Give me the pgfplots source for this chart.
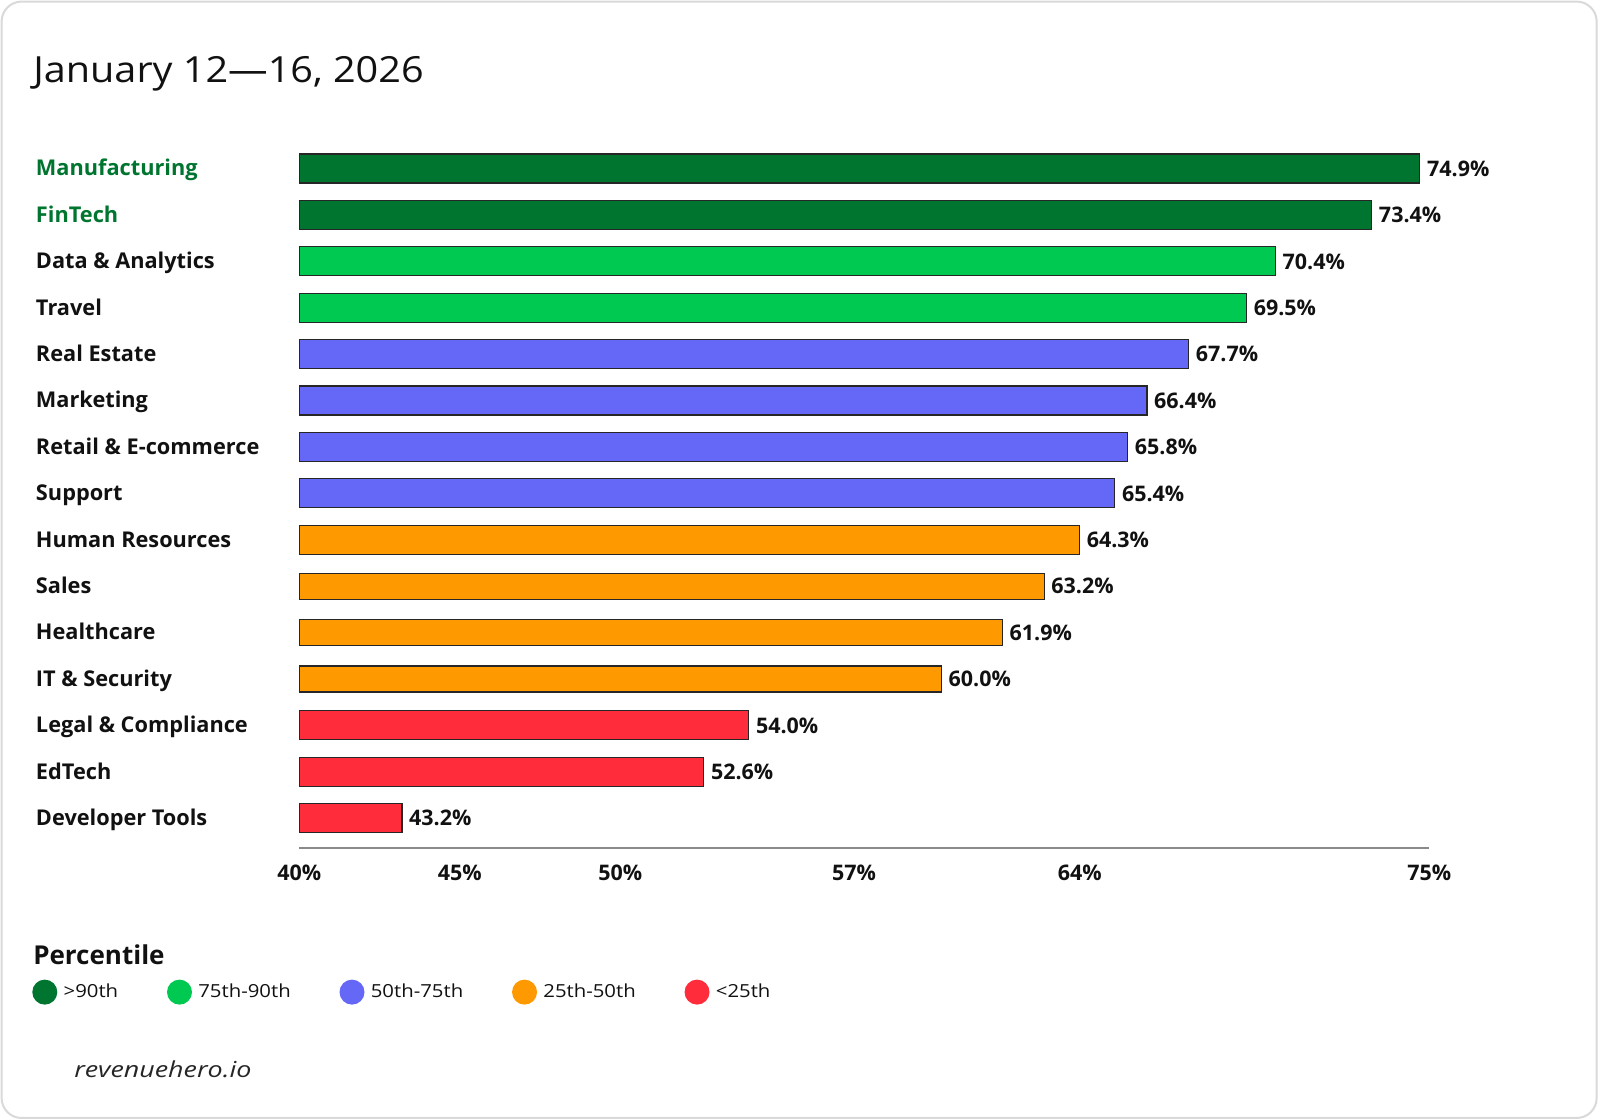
\documentclass[border=0pt]{standalone}
\usepackage{fontspec}
\setmainfont{Open Sans}
\newfontfamily\titlefont[FakeStretch=1.1]{Open Sans}
\newfontfamily\legfont[FakeStretch=1.13]{Open Sans}
\newfontfamily\sigfont[FakeStretch=1.22]{Open Sans}
\usepackage{pgfplots}
\pgfplotsset{compat=1.18}
\usepackage{pgfplotstable}

\definecolor{dkgreen}{HTML}{00752F}
\definecolor{ltgreen}{HTML}{00C951}
\definecolor{violet}{HTML}{6567F7}
\definecolor{orange}{HTML}{FF9900}
\definecolor{red}{HTML}{FF2C3C}
\definecolor{bordergray}{HTML}{D9D9D9}
\definecolor{axisgray}{HTML}{8A8A8A}
\definecolor{txt}{HTML}{111111}

\pgfplotstableread{
idx val
0 74.9
1 73.4
}\tabA
\pgfplotstableread{
idx val
2 70.4
3 69.5
}\tabB
\pgfplotstableread{
idx val
4 67.7
5 66.4
6 65.8
7 65.4
}\tabC
\pgfplotstableread{
idx val
8 64.3
}\tabD
\pgfplotstableread{
idx val
9 63.2
10 61.9
11 60.0
}\tabDthin
\pgfplotstableread{
idx val
12 54.0
13 52.6
14 43.2
}\tabE

\newcommand{\lblfont}{\bfseries\fontsize{16.1}{19}\selectfont}
\newcommand{\catfont}{\bfseries\fontsize{16.3}{19}\selectfont}

\begin{document}
\begin{tikzpicture}
\useasboundingbox (0,0) rectangle (1200pt,840pt);
\draw[draw=bordergray, line width=1.5pt, rounded corners=15pt] (1.2pt,1.5pt) rectangle (1197.5pt,838.8pt);
\node[anchor=base west, inner sep=0pt, font=\titlefont\fontsize{27}{32}\selectfont, text=txt] at (24.75pt,777.75pt) {January 12—16, 2026};

\begin{axis}[
  at={(224.4pt,204pt)}, anchor=south west,
  scale only axis, width=847.5pt, height=527pt,
  xbar, bar shift=0pt, bar width=21.75pt,
  xmin=0, xmax=35.19, ymin=-0.5, ymax=14.644, y dir=reverse,
  clip=false,
  axis x line*=bottom, axis y line*=left,
  x axis line style={draw=axisgray, line width=1.5pt, -},
  y axis line style={draw=none},
  xtick={0,5,10,17.28,24.31,35.19},
  xticklabels={40\%,45\%,50\%,57\%,64\%,75\%},
  ytick={0,...,14},
  yticklabels={\textcolor{dkgreen}{Manufacturing},\textcolor{dkgreen}{FinTech},Data \& Analytics,Travel,Real Estate,Marketing,Retail \& E-commerce,Support,Human Resources,Sales,Healthcare,IT \& Security,Legal \& Compliance,EdTech,Developer Tools},
  major tick length=0pt,
  tick style={draw=none},
  /pgf/number format/assume math mode=true,
  xticklabel style={font=\lblfont, text=txt, anchor=base, inner sep=0pt, yshift=-24pt},
  yticklabel style={font=\catfont, text=txt, anchor=base west, inner sep=0pt, xshift=-197.6pt, yshift=-5.6pt},
  point meta=explicit,
  nodes near coords={\pgfmathprintnumber[fixed,fixed zerofill,precision=1]{\pgfplotspointmeta}\%},
  nodes near coords style={font=\lblfont, text=txt, anchor=base west, inner sep=0pt, xshift=5pt, yshift=-5.85pt},
  every axis plot/.append style={draw=black!85, line width=0.9pt},
  legend columns=5,
  legend cell align=left,
  legend image code/.code={\fill[#1,draw=none] (9.375pt,0pt) circle (9.375pt); \path[draw=none,fill=none] (0pt,0pt) rectangle (21.5pt,0.1pt);},
  legend style={at={(axis cs:-8.32,17.75)}, anchor=west, draw=none, fill=none, inner sep=0pt,
    font=\legfont\fontsize{13.5}{16}\selectfont, text=txt,
    /tikz/every even column/.append style={column sep=34.6pt}},
]
\addplot[fill=dkgreen] table[x expr=\thisrow{val}-40, y=idx, meta=val] {\tabA};
\addlegendentry{>90th}
\addplot[fill=ltgreen] table[x expr=\thisrow{val}-40, y=idx, meta=val] {\tabB};
\addlegendentry{75th-90th}
\addplot[fill=violet] table[x expr=\thisrow{val}-40, y=idx, meta=val] {\tabC};
\addlegendentry{50th-75th}
\addplot[fill=orange] table[x expr=\thisrow{val}-40, y=idx, meta=val] {\tabD};
\addlegendentry{25th-50th}
\addplot[fill=red] table[x expr=\thisrow{val}-40, y=idx, meta=val] {\tabE};
\addlegendentry{<25th}
\addplot[fill=orange, bar width=19.5pt, forget plot] table[x expr=\thisrow{val}-40, y=idx, meta=val] {\tabDthin};
\end{axis}

\node[anchor=base west, inner sep=0pt, font=\bfseries\fontsize{19.5}{23}\selectfont, text=txt] at (24.75pt,116.25pt) {Percentile};
\node[anchor=base west, inner sep=0pt, font=\sigfont\itshape\fontsize{16.5}{20}\selectfont, text=black!85] at (55.5pt,31.5pt) {revenuehero.io};
\end{tikzpicture}
\end{document}
